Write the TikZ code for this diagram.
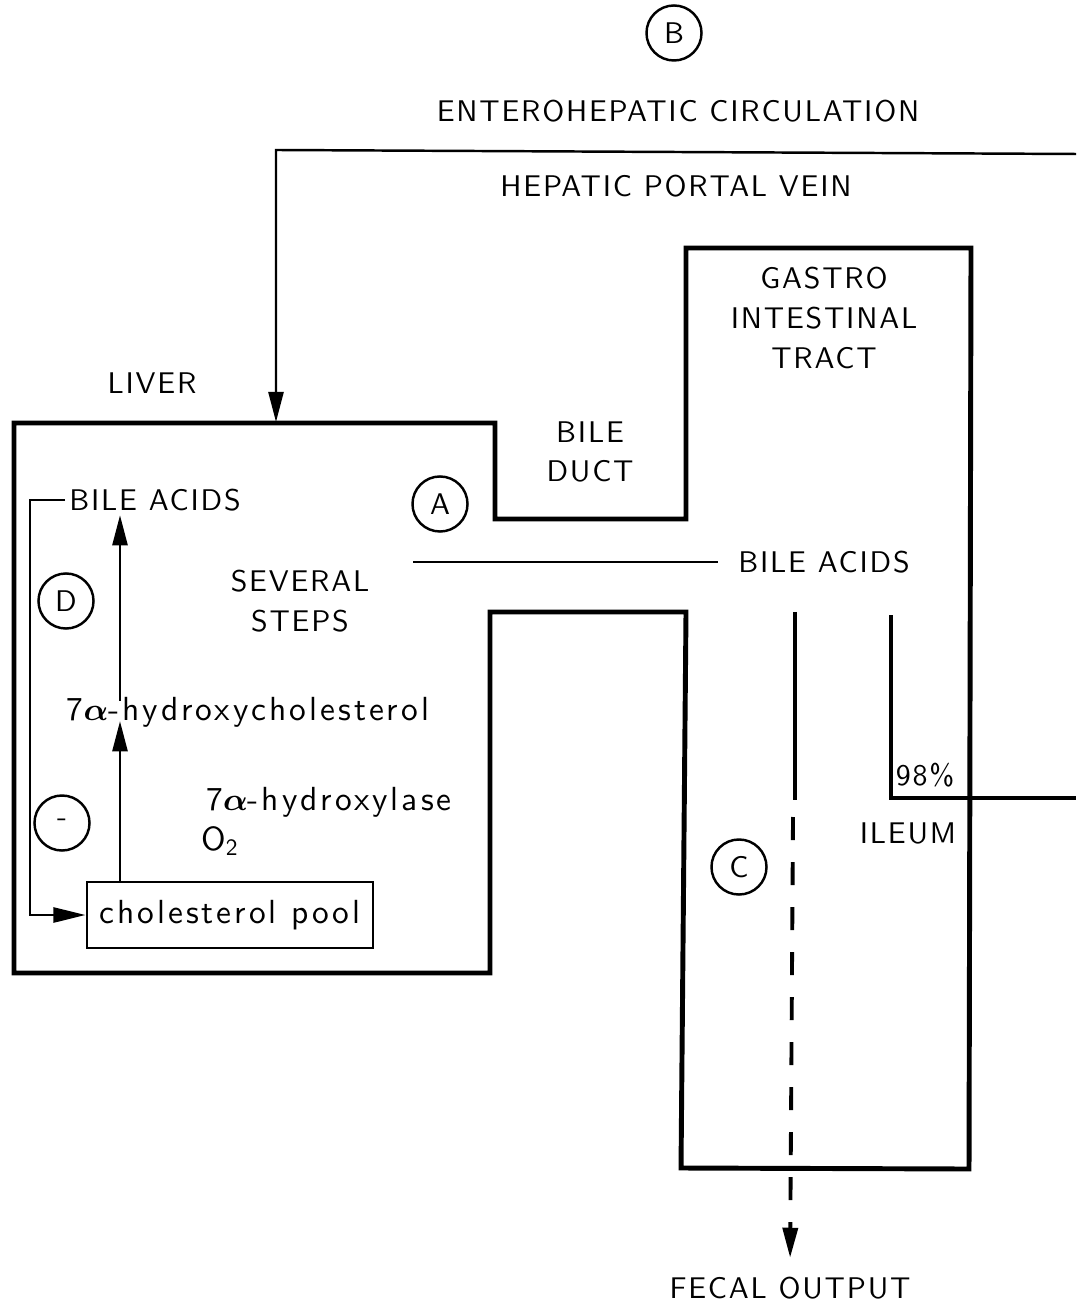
\documentclass[tikz,border=0pt]{standalone}
\usepackage{fontspec}
\usepackage{amsmath}
\usetikzlibrary{arrows.meta}

\newfontfamily\capsfamily{lmsans10-regular.otf}[LetterSpace=6]
\newfontfamily\lowerfamily{lmsans10-regular.otf}[LetterSpace=9]
\newcommand{\labelcaps}{\capsfamily\fontsize{8.5}{11.3}\selectfont}
\newcommand{\labellower}{\lowerfamily\fontsize{9.5}{12}\selectfont}

\tikzset{
  wall/.style={line width=1.4pt, line join=miter},
  flow/.style={line width=0.7pt},
  lumen/.style={line width=1.1pt},
  arr/.style={flow, -{Triangle[length=0.3cm, width=0.15cm]}},
  capstext/.style={font=\labelcaps, inner sep=1pt},
  lowertext/.style={font=\labellower, inner sep=1pt},
  tag/.style={circle, draw, line width=0.7pt, minimum size=0.55cm, inner sep=0pt, font=\labelcaps},
  poolbox/.style={draw, line width=0.8pt, minimum width=2.86cm, minimum height=0.66cm, inner sep=0pt, font=\labellower}
}

\begin{document}
\begin{tikzpicture}[x=0.01cm, y=-0.01cm]
    \useasboundingbox (0,0) rectangle (1076,1304);

    % Liver and gut outline
    \draw[wall] (14,423) -- (495,423) -- (495,519) -- (686,519) -- (686,248)
        -- (971,248) -- (969,1169) -- (681,1168) -- (686,612) -- (490,612)
        -- (490,973) -- (14,973) -- cycle;

    % Labels
    \node[tag] (tagB) at (674,33) {B};
    \node[capstext] (entero) at (678,111) {ENTEROHEPATIC CIRCULATION};
    \node[capstext] (portal) at (676,186) {HEPATIC PORTAL VEIN};
    \node[capstext, align=center] (gitract) at (824,318) {GASTRO\\INTESTINAL\\TRACT};
    \node[capstext] (liver) at (152,383) {LIVER};
    \node[capstext, align=center] (duct) at (590,452) {BILE\\DUCT};
    \node[tag] (tagA) at (440,504) {A};
    \node[capstext] (acidsL) at (155,500) {BILE ACIDS};
    \node[capstext, align=center] (steps) at (300,601) {SEVERAL\\STEPS};
    \node[tag] (tagD) at (66,601) {D};
    \node[capstext] (acidsR) at (824,562) {BILE ACIDS};
    \node[lowertext] (hydroxy) at (248,712) {7$\boldsymbol{\alpha}$-hydroxycholesterol};
    \node[lowertext] (enzyme) at (329,802) {7$\boldsymbol{\alpha}$-hydroxylase};
    \node[lowertext, anchor=west] (oxy) at (197,841) {O\textsubscript{2}};
    \node[tag] (tagMinus) at (62,823) {-};
    \node[capstext] (percent) at (925,775) {98\%};
    \node[capstext] (ileum) at (908,833) {ILEUM};
    \node[tag] (tagC) at (739,867) {C};
    \node[poolbox] (pool) at (230,915) {cholesterol pool};
    \node[capstext] (fecal) at (790,1288) {FECAL OUTPUT};

    % Points
    \coordinate (axis) at (120,0);
    \coordinate (fb) at (30,0);
    \coordinate (pvin) at (1076,154);
    \coordinate (pvbend) at (276,150);
    \coordinate (livtop) at (276,422);
    \coordinate (ductin) at (413,562);
    \coordinate (lumtop) at (795,612);
    \coordinate (lumend) at (795,800);
    \coordinate (lumdash) at (793,817);
    \coordinate (ileumtop) at (891,615);
    \coordinate (ileumout) at (1076,798);

    % Synthesis in the liver
    \draw[arr, shorten >=-0.1cm] (pool.north -| axis) -- (hydroxy.south -| axis);
    \draw[arr, shorten <=-0.08cm] (hydroxy.north -| axis) -- (acidsL.south -| axis);
    \draw[flow, -{Triangle[length=0.32cm, width=0.15cm]}]
        (acidsL.west) -- (acidsL.west -| fb) |- (pool.west);

    % Circulation
    \draw[arr] (pvin) -- (pvbend) -- (livtop);
    \draw[flow, shorten >=0.16cm] (ductin) -- (acidsR.west);
    \draw[lumen] (lumtop) -- (lumend);
    \draw[lumen, dash pattern=on 0.23cm off 0.22cm, -{Triangle[length=0.3cm, width=0.15cm]}, shorten >=0.15cm]
        (lumdash) -- (fecal.north);
    \draw[lumen] (ileumtop) |- (ileumout);
\end{tikzpicture}
\end{document}
